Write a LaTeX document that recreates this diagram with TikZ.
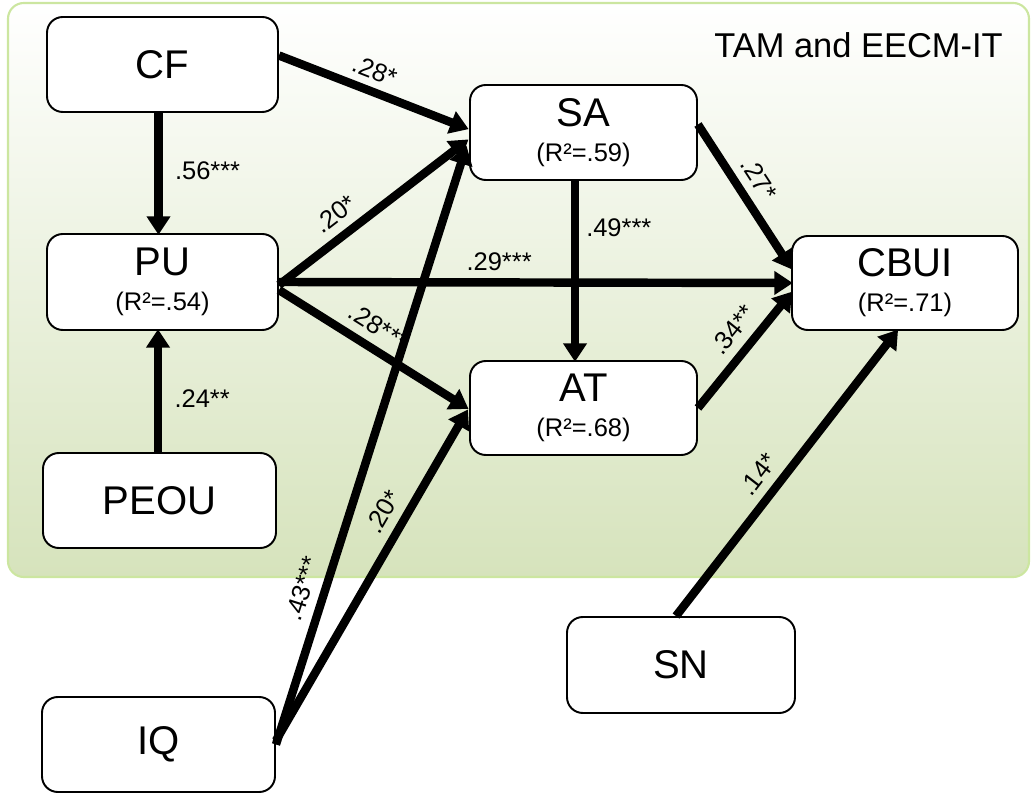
\documentclass[tikz,border=0pt]{standalone}
\usepackage{fontspec}
\setmainfont{Liberation Sans}
\usetikzlibrary{arrows.meta}
\definecolor{bgbottom}{RGB}{214,227,188}
\definecolor{bgtop}{RGB}{255,255,255}
\definecolor{bgborder}{RGB}{204,230,160}
\newcommand{\boxfont}{\fontsize{22.8}{20}\selectfont}
\newcommand{\rfont}{\fontsize{14.5}{20}\selectfont}
\begin{document}
\begin{tikzpicture}[x=0.02cm,y=-0.02cm,
  var/.style={draw=black, line width=1.1pt, fill=white, rounded corners=9pt,
    align=center, inner sep=0pt, font=\rfont},
  path/.style={line width=4.8pt, -{Triangle[length=10.5pt,width=13pt]}, shorten >=-1pt},
  lab/.style={font=\rfont, inner sep=3pt}
]
\useasboundingbox (0,0) rectangle (1031,793);
\shade[top color=bgtop, bottom color=bgbottom, draw=bgborder, line width=1.2pt, rounded corners=9pt]
  (8,3) rectangle (1029,577);
\node[anchor=base east, inner sep=0pt, font=\fontsize{19.6}{22}\selectfont] (title) at (1003,58) {TAM and EECM-IT};

\node[var, minimum width=231*0.02cm, minimum height=95*0.02cm] (CF) at (162.5,64.5) {\boxfont CF};
\node[var, minimum width=231*0.02cm, minimum height=96*0.02cm] (PU) at (162.5,282) {{\boxfont PU}\\(R²=.54)};
\node[var, minimum width=233*0.02cm, minimum height=95*0.02cm] (PEOU) at (159.5,500.5) {\boxfont PEOU};
\node[var, minimum width=233*0.02cm, minimum height=95*0.02cm] (IQ) at (158.5,744.5) {\boxfont IQ};
\node[var, minimum width=227*0.02cm, minimum height=95*0.02cm] (SA) at (583.5,132.5) {{\boxfont SA}\\(R²=.59)};
\node[var, minimum width=227*0.02cm, minimum height=94*0.02cm] (AT) at (583.5,408) {{\boxfont AT}\\(R²=.68)};
\node[var, minimum width=226*0.02cm, minimum height=94*0.02cm] (CBUI) at (905,283) {{\boxfont CBUI}\\(R²=.71)};
\node[var, minimum width=228*0.02cm, minimum height=96*0.02cm] (SN) at (681,665) {\boxfont SN};

\draw[path] ([shift={(0,-9)}]CF.east) -- node[lab, pos=0.47, above=1pt, sloped] {.28*} ([shift={(-2,-4)}]SA.west);
\draw[path] ([shift={(-4,0)}]CF.south) -- node[lab, pos=0.48, right=4pt] {.56***} ([shift={(-4,0)}]PU.north);
\draw[path] ([shift={(0,3)}]PU.east) -- node[lab, pos=0.37, above=2pt, sloped] {.20*} ([shift={(-2,8)}]SA.west);
\draw[path] (PU.east) -- node[lab, pos=0.43, above=1pt] {.29***} (CBUI.west);
\draw[path] ([shift={(0,8)}]PU.east) -- node[lab, pos=0.47, above=2pt, sloped] {.28***} ([shift={(-2,0)}]AT.west);
\draw[path] ([shift={(-1.5,0)}]PEOU.north) -- node[lab, pos=0.44, right=4pt] {.24**} ([shift={(-4.5,0)}]PU.south);
\draw[path] ([shift={(0,0)}]IQ.east) -- node[lab, pos=0.25, above=2pt, sloped] {.43***} ([shift={(-3,15)}]SA.west);
\draw[path] ([shift={(0,-4)}]IQ.east) -- node[lab, pos=0.66, above=2pt, sloped] {.20*} ([shift={(-2,3)}]AT.west);
\draw[path] ([shift={(0,-8)}]SA.east) -- node[lab, pos=0.46, above=2pt, sloped] {.27*} ([shift={(0,-15)}]CBUI.west);
\draw[path] ([shift={(-8.5,0)}]SA.south) -- node[lab, pos=0.26, right=1pt] {.49***} ([shift={(-8.5,0)}]AT.north);
\draw[path] (AT.east) -- node[lab, pos=0.56, above=2pt, sloped] {.34**} ([shift={(0,10)}]CBUI.west);
\draw[path] ([shift={(-5,0)}]SN.north) -- node[lab, pos=0.45, above=2pt, sloped] {.14*} ([shift={(-8,0)}]CBUI.south);
\end{tikzpicture}
\end{document}
